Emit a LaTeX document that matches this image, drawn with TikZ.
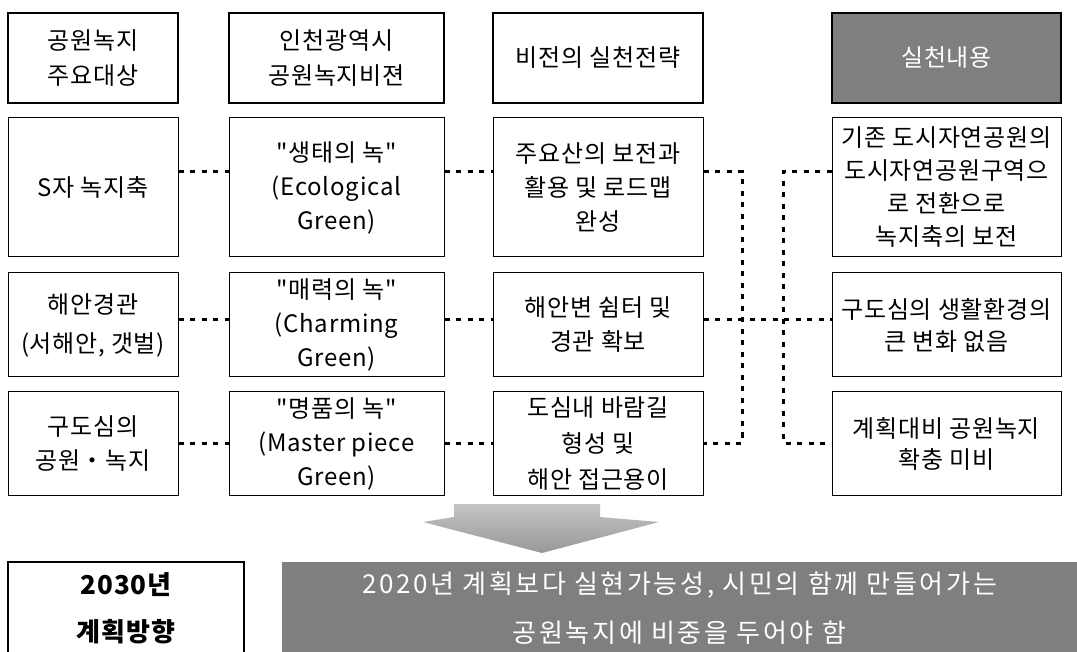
\documentclass[tikz,border=0pt]{standalone}
\usepackage{fontspec}
\newfontfamily\krfont{Noto Sans CJK KR}[LetterSpace=3]
\newfontfamily\krwide{Noto Sans CJK KR}[LetterSpace=10]
\usepackage{xcolor}
\definecolor{headgray}{HTML}{7F7F7F}
\definecolor{arrowlight}{HTML}{C4C4C4}
\definecolor{arrowdark}{HTML}{989898}
\usetikzlibrary{calc}

\begin{document}
\begin{tikzpicture}[x=1pt,y=-1pt,
  cell/.style={draw,line width=1pt,inner sep=2pt,align=center,font=\krfont\fontsize{24}{34}\selectfont},
  headcell/.style={cell,line width=2.5pt,font=\krfont\fontsize{24}{35}\selectfont},
  link/.style={line width=3pt,dash pattern=on 5pt off 6.5pt}]
  \useasboundingbox (0,0) rectangle (1077,652);
  \clip (0,0) rectangle (1077,652);
  % Header row
  \node[headcell,minimum width=170pt,minimum height=90pt] (aimHead) at (93,58) {공원녹지\\주요대상};
  \node[headcell,minimum width=215pt,minimum height=90pt] (visHead) at (336.5,58) {인천광역시\\공원녹지비젼};
  \node[headcell,minimum width=210pt,minimum height=90pt] (strHead) at (598,58) {비전의 실천전략};
  \node[headcell,fill=headgray,text=white,minimum width=229pt,minimum height=90pt] (resHead) at (946.5,58) {실천내용};
  % Row 1
  \node[cell,minimum width=170pt,minimum height=139pt] (aim1) at (93,187.5) {S자 녹지축};
  \node[cell,minimum width=215pt,minimum height=139pt] (vis1) at (336.5,187.5) {"생태의 녹"\\(Ecological\\Green)};
  \node[cell,minimum width=210pt,minimum height=139pt] (str1) at (598,187.5) {주요산의 보전과\\활용 및 로드맵\\완성};
  \node[cell,minimum width=229pt,minimum height=139pt,font=\krfont\fontsize{24}{33}\selectfont] (res1) at (946.5,187.5) {기존 도시자연공원의\\도시자연공원구역으\\로 전환으로\\녹지축의 보전};
  % Row 2
  \node[cell,minimum width=170pt,minimum height=104pt,font=\krfont\fontsize{24}{39}\selectfont] (aim2) at (93,325) {해안경관\\(서해안, 갯벌)};
  \node[cell,minimum width=215pt,minimum height=104pt] (vis2) at (336.5,325) {"매력의 녹"\\(Charming\\Green)};
  \node[cell,minimum width=210pt,minimum height=104pt] (str2) at (598,325) {해안변 쉼터 및\\경관 확보};
  \node[cell,minimum width=229pt,minimum height=104pt,font=\krfont\fontsize{24}{32}\selectfont] (res2) at (946.5,325) {구도심의 생활환경의\\큰 변화 없음};
  % Row 3
  \node[cell,minimum width=170pt,minimum height=103pt] (aim3) at (93,443.5) {구도심의\\공원・녹지};
  \node[cell,minimum width=215pt,minimum height=103pt] (vis3) at (336.5,443.5) {"명품의 녹"\\(Master piece\\Green)};
  \node[cell,minimum width=210pt,minimum height=103pt,font=\krfont\fontsize{24}{36}\selectfont] (str3) at (598,443.5) {도심내 바람길\\형성 및\\해안 접근용이};
  \node[cell,minimum width=229pt,minimum height=103pt,font=\krfont\fontsize{24}{31}\selectfont] (res3) at (946.5,443.5) {계획대비 공원녹지\\확충 미비};
  % Dotted links
  \coordinate (rowA) at (0,172);
  \coordinate (rowB) at (0,320);
  \coordinate (rowC) at (0,443);
  \coordinate (busL) at (742,0);
  \coordinate (busR) at (783,0);
  \foreach \r/\y in {1/rowA,2/rowB,3/rowC} {
    \draw[link] (aim\r.east |- \y) -- (vis\r.west |- \y);
    \draw[link] (vis\r.east |- \y) -- (str\r.west |- \y);
  }
  \draw[link] (str1.east |- rowA) -| (busL |- rowC) -- (str3.east |- rowC);
  \draw[link] (str2.east |- rowB) -- (res2.west |- rowB);
  \draw[link] (res1.west |- rowA) -| (busR |- rowC) -- (res3.west |- rowC);
  % Down arrow
  \shade[top color=arrowlight,bottom color=arrowdark] (454,504) -- (600,504) -- (600,517) -- (659,522)
    -- (542,553) -- (423,522) -- (454,517) -- cycle;
  % Planning direction
  \node[headcell,font=\krfont\fontsize{26}{47}\selectfont\bfseries,minimum width=236pt,minimum height=93pt] (dirHead) at (126,608.5) {2030년\\계획방향};
  \node[fill=headgray,text=white,align=center,inner sep=0pt,minimum width=795pt,minimum height=92pt,font=\krwide\fontsize{26}{49}\selectfont] (dirText) at (679.5,608) {2020년 계획보다 실현가능성, 시민의 함께 만들어가는\\공원녹지에 비중을 두어야 함};
\end{tikzpicture}
\end{document}
